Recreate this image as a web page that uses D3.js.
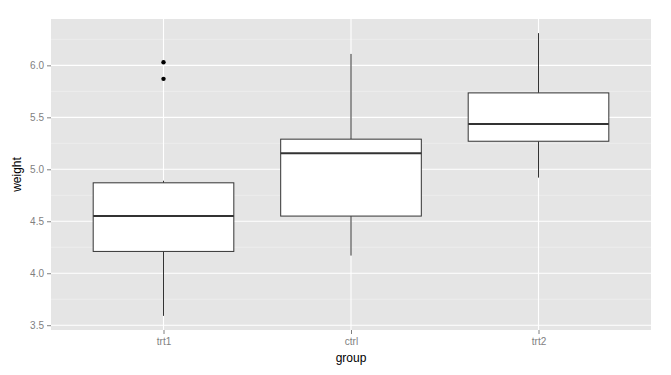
<!DOCTYPE html>
<html>
<head>
<meta charset="utf-8">
<script src="https://cdn.jsdelivr.net/npm/d3@7"></script>
<style>
  body { margin: 0; background: #fff; }
  text { font-family: "Liberation Sans", Arial, sans-serif; }
</style>
</head>
<body>
<div id="chart"></div>
<script>
const layout = {
    width: 671,
    height: 375,
    marginTop: 19,
    marginLeft: 51,
    marginRight: 20,
    marginBottom: 45
};

// box statistics
var groups = ["trt1", "ctrl", "trt2"];
var lowerWhisker = [3.59, 4.17, 4.92];
var q1 = [4.21, 4.55, 5.27];
var medians = [4.55, 5.155, 5.435];
var q3 = [4.87, 5.29, 5.735];
var upperWhisker = [4.89, 6.11, 6.31];
var outliers = [[5.87, 6.03], [], []];

var yTicks = [3.5, 4.0, 4.5, 5.0, 5.5, 6.0];
var yMinor = [3.75, 4.25, 4.75, 5.25, 5.75, 6.25];

const chartWidth = layout.width - layout.marginLeft - layout.marginRight;
const chartHeight = layout.height - layout.marginTop - layout.marginBottom;

let svg = d3.select("#chart").append("svg")
    .attr("width", layout.width)
    .attr("height", layout.height);

let xScale = d3.scalePoint()
    .domain(groups)
    .range([0, chartWidth])
    .padding(0.6);
let step = xScale.step();
let boxWidth = step * 0.75;

let lo = 3.59, hi = 6.31, pad = (hi - lo) * 0.05;
let yScale = d3.scaleLinear()
    .domain([lo - pad, hi + pad])
    .range([chartHeight, 0]);

let g = svg.append("g")
    .attr("transform", `translate(${layout.marginLeft},${layout.marginTop})`);

// panel background
g.append("rect")
    .attr("width", chartWidth)
    .attr("height", chartHeight)
    .attr("fill", "#E5E5E5");

// minor grid
g.selectAll(".minor").data(yMinor).join("line")
    .attr("x1", 0).attr("x2", chartWidth)
    .attr("y1", d => yScale(d)).attr("y2", d => yScale(d))
    .attr("stroke", "#F2F2F2")
    .attr("stroke-width", 0.6);

// major grid
g.selectAll(".major").data(yTicks).join("line")
    .attr("x1", 0).attr("x2", chartWidth)
    .attr("y1", d => yScale(d)).attr("y2", d => yScale(d))
    .attr("stroke", "#fff")
    .attr("stroke-width", 1.1);
g.selectAll(".vmajor").data(groups).join("line")
    .attr("x1", d => xScale(d)).attr("x2", d => xScale(d))
    .attr("y1", 0).attr("y2", chartHeight)
    .attr("stroke", "#fff")
    .attr("stroke-width", 1.1);

// y axis
let yAxis = g.append("g")
    .call(d3.axisLeft(yScale).tickValues(yTicks).tickFormat(d3.format(".1f")).tickSize(4).tickPadding(3));
yAxis.select(".domain").remove();
yAxis.selectAll("line").attr("stroke", "#7F7F7F");
yAxis.selectAll("text").attr("fill", "#7F7F7F").attr("font-size", 10)
    .style("font-family", "'Liberation Sans', Arial, sans-serif");

// x axis
let xAxis = g.append("g")
    .attr("transform", `translate(0,${chartHeight})`)
    .call(d3.axisBottom(xScale).tickSize(4).tickPadding(4));
xAxis.select(".domain").remove();
xAxis.selectAll("line").attr("stroke", "#7F7F7F");
xAxis.selectAll("text").attr("fill", "#7F7F7F").attr("font-size", 10)
    .style("font-family", "'Liberation Sans', Arial, sans-serif");

// axis titles
svg.append("text")
    .attr("transform", `translate(${layout.marginLeft + chartWidth / 2},${layout.marginTop + chartHeight + 32})`)
    .attr("text-anchor", "middle")
    .attr("font-size", 12)
    .attr("fill", "#000")
    .text("group");
svg.append("text")
    .attr("transform", `translate(21,${layout.marginTop + chartHeight / 2}) rotate(-90)`)
    .attr("text-anchor", "middle")
    .attr("font-size", 12)
    .attr("fill", "#000")
    .text("weight");

// boxes
let boxes = g.selectAll(".box").data(groups).join("g");
boxes.append("line")
    .attr("x1", d => xScale(d)).attr("x2", d => xScale(d))
    .attr("y1", (d, i) => yScale(q3[i])).attr("y2", (d, i) => yScale(upperWhisker[i]))
    .attr("stroke", "#333").attr("stroke-width", 1);
boxes.append("line")
    .attr("x1", d => xScale(d)).attr("x2", d => xScale(d))
    .attr("y1", (d, i) => yScale(q1[i])).attr("y2", (d, i) => yScale(lowerWhisker[i]))
    .attr("stroke", "#333").attr("stroke-width", 1);
boxes.append("rect")
    .attr("x", d => xScale(d) - boxWidth / 2)
    .attr("width", boxWidth)
    .attr("y", (d, i) => yScale(q3[i]))
    .attr("height", (d, i) => yScale(q1[i]) - yScale(q3[i]))
    .attr("fill", "#fff")
    .attr("stroke", "#333")
    .attr("stroke-width", 1);
boxes.append("line")
    .attr("x1", d => xScale(d) - boxWidth / 2).attr("x2", d => xScale(d) + boxWidth / 2)
    .attr("y1", (d, i) => yScale(medians[i])).attr("y2", (d, i) => yScale(medians[i]))
    .attr("stroke", "#333").attr("stroke-width", 2);

// outliers
groups.forEach(function(grp, i) {
    g.selectAll(".out-" + grp).data(outliers[i]).join("circle")
        .attr("cx", xScale(grp))
        .attr("cy", d => yScale(d))
        .attr("r", 2.2)
        .attr("fill", "#000");
});
</script>
</body>
</html>
